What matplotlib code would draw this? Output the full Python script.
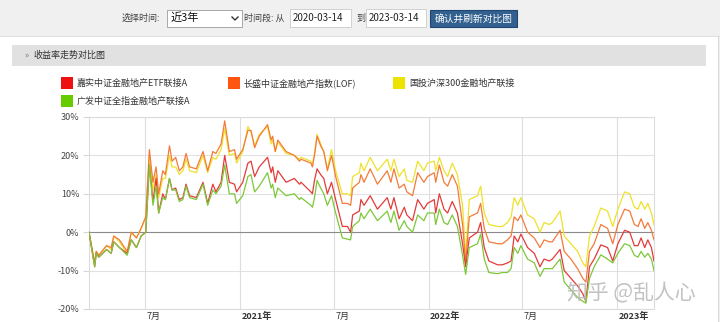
import matplotlib
matplotlib.use("Agg")
import matplotlib.pyplot as plt
from matplotlib.patches import Rectangle
from matplotlib.lines import Line2D
import matplotlib.transforms as mtransforms
import pandas as pd

plt.rcParams['font.family'] = ['Noto Sans CJK SC', 'DejaVu Sans']

# ---- data (returns in %) ----
dates = [
    "2020-03-14", "2020-03-25", "2020-03-28", "2020-04-02", "2020-04-17", "2020-04-26",
    "2020-05-01", "2020-05-12", "2020-05-27", "2020-06-04", "2020-06-14", "2020-06-23",
    "2020-07-02", "2020-07-09", "2020-07-16", "2020-07-22", "2020-07-27", "2020-08-04",
    "2020-08-09", "2020-08-17", "2020-08-22", "2020-08-29", "2020-09-05", "2020-09-12",
    "2020-09-18", "2020-09-25", "2020-10-08", "2020-10-21", "2020-10-30", "2020-11-09",
    "2020-11-15", "2020-11-25", "2020-12-02", "2020-12-11", "2020-12-21", "2020-12-25",
    "2021-01-06", "2021-01-16", "2021-01-22", "2021-01-29", "2021-02-07", "2021-02-23",
    "2021-03-02", "2021-03-05", "2021-03-10", "2021-03-15", "2021-03-31",
    "2021-04-16", "2021-04-26", "2021-04-29", "2021-05-18", "2021-05-21", "2021-05-25",
    "2021-05-30", "2021-06-06", "2021-06-12", "2021-06-19", "2021-06-27", "2021-07-05",
    "2021-07-18", "2021-07-28", "2021-08-03", "2021-08-07", "2021-08-20", "2021-08-23",
    "2021-08-29", "2021-09-10", "2021-09-24", "2021-10-13", "2021-10-20", "2021-10-26",
    "2021-11-05", "2021-11-15", "2021-11-20", "2021-12-01", "2021-12-11", "2021-12-23",
    "2021-12-30", "2022-01-12", "2022-01-15", "2022-01-22", "2022-01-31", "2022-02-07",
    "2022-02-16", "2022-02-26", "2022-03-08", "2022-03-14", "2022-03-21", "2022-04-06",
    "2022-04-12", "2022-04-19", "2022-04-28", "2022-05-15", "2022-05-24", "2022-06-03",
    "2022-06-10", "2022-06-16", "2022-06-23", "2022-06-29", "2022-07-12", "2022-07-25",
    "2022-08-05", "2022-08-13", "2022-08-23", "2022-08-29", "2022-09-13", "2022-09-21",
    "2022-10-04", "2022-10-17", "2022-10-27", "2022-11-02", "2022-11-09", "2022-11-18",
    "2022-12-01", "2022-12-14", "2022-12-24", "2023-01-03", "2023-01-16", "2023-01-26",
    "2023-02-04", "2023-02-11", "2023-02-17", "2023-02-24", "2023-03-02", "2023-03-09",
    "2023-03-14",
]

# 长盛中证金融地产指数(LOF)
changsheng = [
    0, -8, -5, -6, -3.5, -4, -1, -2, -5, 0, -1.5, 1,
    4, 21.5, 13, 17, 10, 16, 15, 22.5, 18.5, 19.5, 16, 17,
    20.5, 17, 16.5, 21, 16, 21, 20.5, 23, 29, 21, 21.5, 19,
    21.5, 26.5, 26.5, 22, 25, 28, 24, 25, 21, 24, 21,
    20, 18.5, 19, 18, 17, 20, 25, 22.5, 21, 16, 20, 14.5,
    7.5, 7.5, 7, 11.5, 13, 15, 13, 16.5, 12.5, 16, 13, 16.5,
    11.5, 12.5, 10.5, 9.5, 15.5, 13, 14.5, 15.5, 13, 17.5, 13, 12,
    15, 12, 2, -8, 4, 5, 7.5, 1, -2.5, -3, -3, -2,
    -1, 4, 3, 4.5, 0, -1.5, -4, -2, -2.5, -2.5, 0.5, -5,
    -7, -9.5, -12, -13, -5, -3, 2, 1, -3, 2, 6, 5.5,
    2, 1.5, 3.5, 1, 2.5, 0.5, -2,
]

# 国投沪深300金融地产联接
guotou = [
    0, -8, -5, -6, -3.5, -4.5, -1, -2.5, -5.5, 0, -1.5, 1,
    4, 20, 11, 15, 9, 14, 14, 20, 17, 17, 15, 16,
    19, 16, 15.5, 20, 15.5, 19.5, 19, 21.5, 27, 20, 20.5, 18,
    21, 27.5, 26, 22.5, 25.5, 27.5, 23, 24, 21, 23.5, 20.5,
    20, 19, 19.5, 18.5, 17.5, 20.5, 25.5, 23, 21, 16.5, 21.5, 16,
    10, 10, 9.5, 14.5, 15.5, 18, 16, 19.5, 16, 19, 16, 19,
    14.5, 16.5, 13.5, 13, 18.5, 16, 18, 18.5, 16, 19.5, 16, 14.5,
    18, 15, 7, -6, 8.5, 9.5, 12, 5, 2, 1.5, 1.5, 2.5,
    4, 9, 7, 9, 4.5, 3.5, 0, 2.5, 2, 2.5, 5.5, -1,
    -3, -5, -8, -9, -1, 1.5, 6.3, 5.5, 1.5, 6, 10.5, 10,
    6.5, 6, 8, 6, 7.5, 5, 2,
]

# 嘉实中证金融地产ETF联接A
jiashi = [
    0, -9, -5.5, -6.5, -4.5, -5.5, -2.5, -4, -5.5, -2, -4, -1,
    0, 17.5, 8, 14, 5, 10, 8.5, 14, 11, 11.5, 8.5, 9,
    12.5, 9.5, 9, 13, 7.5, 12.5, 10.5, 13, 20, 13, 12.5, 10.5,
    13, 18, 18.5, 14.5, 17, 19.5, 15.5, 17, 13, 16, 13,
    14, 12.5, 13, 10.5, 10, 13.5, 16.5, 15, 14, 10, 13, 8.5,
    1.5, 1.5, 0, 4.5, 5.5, 8.5, 7, 9.5, 6, 9, 6, 9,
    3.5, 6.5, 4.5, 3, 8.5, 6, 7.5, 8.5, 5, 10, 6, 5,
    8, 5, -3, -9, -1.5, 0, 2.5, -4, -7.5, -8.5, -8.5, -8,
    -7.5, -1, -2.5, -0.5, -4, -5.5, -9, -7, -7.5, -7, -4.5, -10,
    -12, -14, -16, -18, -9, -7, -3.3, -4, -7.5, -3, 0.5, 0,
    -3.5, -3.5, -1.5, -4, -2, -4, -7.5,
]

# 广发中证全指金融地产联接A
guangfa = [
    0, -9, -5.5, -6.5, -4.5, -5.5, -2.5, -4, -6, -2, -4, -1,
    0, 17.5, 7, 12, 5, 9, 8.5, 14, 11, 11, 8, 8.5,
    12, 9, 8.5, 12.5, 7, 11, 10, 12, 17.5, 10, 10, 7.5,
    9.5, 14.5, 15, 10.5, 12, 15.5, 11.5, 12.5, 9, 11.5, 9.5,
    10, 8.5, 9, 7, 6.5, 9, 13.5, 11.5, 10, 7, 9.5, 5,
    -1.5, -1.8, -2, 1.5, 3, 5, 3.5, 6, 3, 5.5, 2.5, 5.5,
    0.5, 3, 1.5, 0, 4.5, 3, 5, 5, 2, 6, 2.5, 2,
    4.5, 1.5, -6, -11, -4, -3, -0.5, -7, -10.5, -10.8, -10.5, -10.5,
    -9.5, -4, -5.5, -3.5, -7, -8, -11.5, -9.5, -9.5, -9.5, -7, -13,
    -15, -17, -18, -18.5, -12, -9, -5.9, -7, -8, -5.5, -3, -3.5,
    -6, -6.5, -5, -6.5, -5.5, -7, -10,
]

series_names = ["嘉实中证金融地产ETF联接A", "长盛中证金融地产指数(LOF)",
                "国投沪深300金融地产联接", "广发中证全指金融地产联接A"]
legend_colors = ["#ee1111", "#ff5510", "#eee200", "#66cc00"]
line_colors = ["#e43a3a", "#f47a3a", "#eee22a", "#7cc83a"]

tick_dates = ["2020-07-01", "2021-01-01", "2021-07-01", "2022-01-01", "2022-07-01", "2023-01-01"]
tick_labels = ["7月", "2021年", "7月", "2022年", "7月", "2023年"]
y_ticks = [-20, -10, 0, 10, 20, 30]

W, H = 720, 322
fig = plt.figure(figsize=(W / 100, H / 100), dpi=100)
fig.patch.set_facecolor("white")


def fx(x):
    return x / W


def fy(y):
    return 1 - y / H


def box(x0, y0, x1, y1, **kw):
    fig.patches.append(Rectangle((fx(x0), fy(y1)), fx(x1) - fx(x0), fy(y0) - fy(y1),
                                 transform=fig.transFigure, **kw))


# top control bar
box(0, 0, 720, 36, facecolor="#f0f0f0", edgecolor="none")
fig.lines.append(Line2D([0, 1], [fy(36), fy(36)], transform=fig.transFigure, color="#e2e2e2", lw=0.8))
fig.text(fx(122), fy(18), "选择时间:", fontsize=6.5, color="#444", va="center")
box(167, 10, 242, 27, facecolor="white", edgecolor="#a8a8a8", lw=0.7)
fig.text(fx(171), fy(18), "近3年", fontsize=8, color="#111", va="center")
fig.lines.append(Line2D([fx(232), fx(235), fx(238)], [fy(17), fy(20), fy(17)],
                        transform=fig.transFigure, color="#333", lw=1.0))
fig.text(fx(244), fy(18), "时间段: 从", fontsize=6.5, color="#444", va="center")
box(290, 9, 351, 27, facecolor="white", edgecolor="#d0d0d0", lw=0.7)
fig.text(fx(293), fy(18), "2020-03-14", fontsize=7, color="#222", va="center")
fig.text(fx(356), fy(18), "到", fontsize=6.5, color="#444", va="center")
box(366, 9, 426, 27, facecolor="white", edgecolor="#d0d0d0", lw=0.7)
fig.text(fx(369), fy(18), "2023-03-14", fontsize=7, color="#222", va="center")
box(430, 10, 517, 27, facecolor="#32608f", edgecolor="#1f4772", lw=0.8)
fig.text(fx(473.5), fy(18.5), "确认并刷新对比图", fontsize=7, color="white", va="center", ha="center")

# right border of the white panel
box(718, 36, 720, 322, facecolor="#f0f0f0", edgecolor="none")
fig.lines.append(Line2D([fx(717.5), fx(717.5)], [fy(36), 0], transform=fig.transFigure, color="#dcdcdc", lw=0.8))

# section header
box(12, 45, 706, 66, facecolor="#e1e1e1", edgecolor="none")
fig.text(fx(24), fy(55.5), "»", fontsize=6, color="#777", va="center")
fig.text(fx(33), fy(55.5), "收益率走势对比图", fontsize=6.5, color="#333", va="center")

# legend
legend_pos = [(61, 77), (228, 77), (393, 77), (61, 95)]
for (lx, ly), name, col in zip(legend_pos, series_names, legend_colors):
    box(lx, ly, lx + 12, ly + 12, facecolor=col, edgecolor="none")
    fig.text(fx(lx + 16), fy(ly + 6), name, fontsize=6.5, color="#333", va="center")

# chart
ax = fig.add_axes([fx(89), fy(309), fx(654) - fx(89), fy(117) - fy(309)])
x = pd.to_datetime(dates)
order = [(jiashi, 0), (changsheng, 1), (guotou, 2), (guangfa, 3)]
for vals, i in [(guotou, 2), (changsheng, 1), (jiashi, 0), (guangfa, 3)]:
    ax.plot(x, vals, color=line_colors[i], lw=0.9, zorder=3)

ax.set_xlim(pd.Timestamp("2020-03-14"), pd.Timestamp("2023-03-14"))
ax.set_ylim(-20, 30)
ax.set_yticks(y_ticks)
ax.set_yticklabels([f"{v}%" for v in y_ticks], fontsize=6.5, color="#444")
ax.tick_params(axis="y", length=4, color="#d8d8d8", pad=3)
for v in y_ticks:
    if v == 0:
        ax.axhline(v, color="#8a8a8a", lw=0.8, zorder=2)
    else:
        ax.axhline(v, color="#e2e2e2", lw=0.8, zorder=1)
xt = pd.to_datetime(tick_dates)
ax.set_xticks(xt)
ax.set_xticklabels([])
ax.tick_params(axis="x", length=0)
for d in xt:
    ax.axvline(d, color="#dedede", lw=0.8, zorder=1)
trans = mtransforms.blended_transform_factory(ax.transData, ax.transAxes)
for d, lab in zip(xt, tick_labels):
    ax.text(d + pd.Timedelta(days=3), -0.015, lab, transform=trans, ha="left", va="top",
            fontsize=6.5, color="#333", fontweight="bold" if "年" in lab else "normal")
for s in ax.spines.values():
    s.set_color("#dcdcdc")
    s.set_linewidth(0.8)

# watermark from the screenshot
fig.text(fx(567), fy(293), "知乎 @乱人心", fontsize=15, color="#b8b8b8", alpha=0.85, va="center")

fig.savefig("out.png", dpi=100)
